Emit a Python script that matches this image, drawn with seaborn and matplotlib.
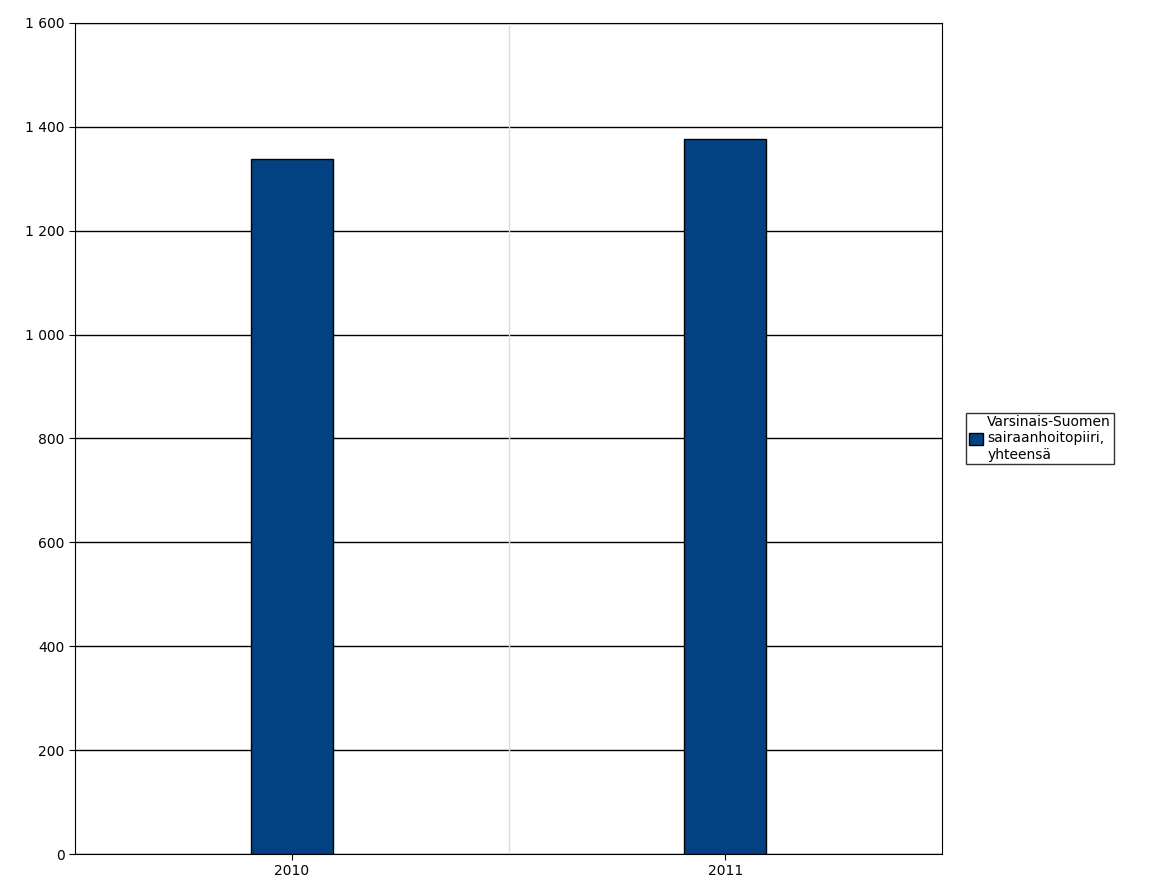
import pandas as pd
import seaborn as sns
from matplotlib import pyplot as plt

sns.set_style("white")
plt.rcParams['font.family'] = ['DejaVu Sans']
plt.rcParams['text.color'] = 'black'
plt.rcParams['xtick.color'] = 'black'
plt.rcParams['ytick.color'] = 'black'

years = ['2010', '2011']
values = [1338, 1376]
series_name = 'Varsinais-Suomen\nsairaanhoitopiiri,\nyhteensä'

df = pd.DataFrame({'year': years, 'value': values, 'series': series_name})

fig = plt.figure(figsize=(11.6, 8.82), dpi=100)
ax = fig.add_axes([0.0647, 0.0317, 0.7474, 0.9423])
sns.barplot(data=df, x='year', y='value', hue='series', palette=['#034282'],
            saturation=1, width=0.19, edgecolor='black', linewidth=1, ax=ax, zorder=3)

ax.set_ylim(0, 1600)
ax.set_xlim(-0.5, 1.5)
ticks = list(range(0, 1601, 200))
ax.set_yticks(ticks)
ax.set_yticklabels([f"{t:,}".replace(',', ' ') for t in ticks], fontsize=10)
ax.tick_params(axis='x', labelsize=10)
ax.grid(axis='y', color='black', linewidth=1, zorder=1)
ax.axvline(0.5, color='#dddddd', linewidth=1, zorder=1)
ax.set_xlabel('')
ax.set_ylabel('')
for s in ax.spines.values():
    s.set_color('black')
ax.tick_params(axis='both', length=4, color='black', direction='out')
ax.tick_params(axis='y', left=True)
ax.tick_params(axis='x', bottom=True)

leg = ax.legend(loc='center left', bbox_to_anchor=(1.02, 0.5), fontsize=10,
                frameon=True, fancybox=False, edgecolor='black',
                handlelength=1, handleheight=1, borderpad=0.2,
                handletextpad=0.3, labelspacing=0.0)

fig.savefig('out.png', dpi=100)
